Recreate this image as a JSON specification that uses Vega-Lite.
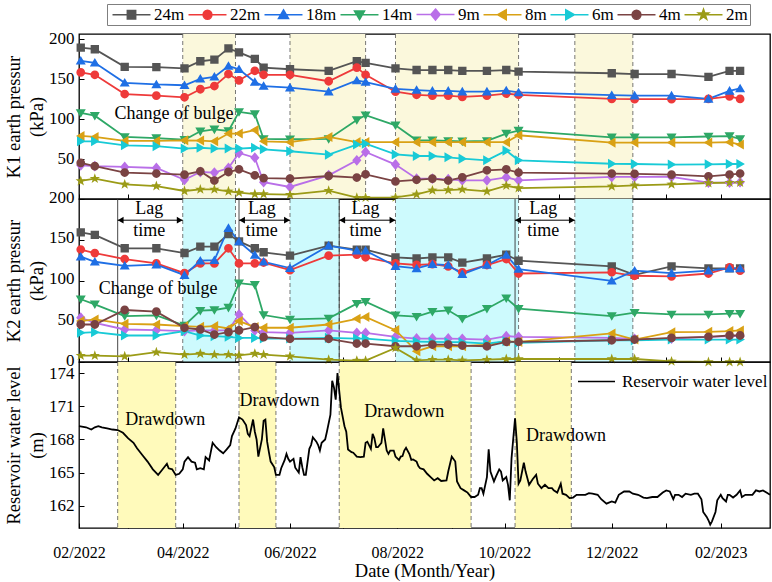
{
"$schema": "https://vega.github.io/schema/vega-lite/v6.json",
"background": "white",
"padding": {"left": 3, "top": 2, "right": 2, "bottom": 2},
"spacing": 0,
"bounds": "flush",
"config": {
  "font": "Liberation Serif",
  "view": {"stroke": "black", "strokeWidth": 1.3},
  "axis": {"grid": false, "labelColor": "black", "titleColor": "black", "tickColor": "black", "domainColor": "black", "labelFont": "Liberation Serif", "titleFont": "Liberation Serif", "labelFontSize": 17, "titleFontSize": 18.5, "titleFontWeight": "normal", "tickWidth": 1},
  "legend": {"labelFont": "Liberation Serif", "labelColor": "black"},
  "text": {"font": "Liberation Serif", "fontSize": 18, "color": "black"}
},
"datasets": {
  "k1bands": [{"start":"2022-04-01","end":"2022-05-01"},{"start":"2022-06-01","end":"2022-07-14"},{"start":"2022-07-31","end":"2022-10-09"},{"start":"2022-11-10","end":"2022-12-13"}],
  "k2bands": [{"start":"2022-04-01","end":"2022-05-01"},{"start":"2022-06-01","end":"2022-06-29"},{"start":"2022-07-31","end":"2022-10-09"},{"start":"2022-11-10","end":"2022-12-13"}],
  "lags": [{"start":"2022-02-23","end":"2022-04-01","mid":"2022-03-13"},{"start":"2022-05-03","end":"2022-06-01","mid":"2022-05-16"},{"start":"2022-06-29","end":"2022-07-31","mid":"2022-07-14"},{"start":"2022-10-07","end":"2022-11-10","mid":"2022-10-23"}],
  "drawdown": [{"start":"2022-02-23","end":"2022-03-28"},{"start":"2022-05-03","end":"2022-05-24"},{"start":"2022-06-29","end":"2022-09-12"},{"start":"2022-10-07","end":"2022-11-08"}],
  "k1": [
{"date":"2022-02-02","depth":"24m","kPa":189},{"date":"2022-02-10","depth":"24m","kPa":187},{"date":"2022-02-27","depth":"24m","kPa":165},{"date":"2022-03-17","depth":"24m","kPa":164.6},{"date":"2022-04-02","depth":"24m","kPa":163},{"date":"2022-04-11","depth":"24m","kPa":172},{"date":"2022-04-19","depth":"24m","kPa":174},{"date":"2022-04-27","depth":"24m","kPa":188},{"date":"2022-05-03","depth":"24m","kPa":183},{"date":"2022-05-12","depth":"24m","kPa":175},{"date":"2022-05-17","depth":"24m","kPa":164},{"date":"2022-06-01","depth":"24m","kPa":162},{"date":"2022-06-23","depth":"24m","kPa":160},{"date":"2022-07-09","depth":"24m","kPa":172},{"date":"2022-07-14","depth":"24m","kPa":170},{"date":"2022-07-31","depth":"24m","kPa":163},{"date":"2022-08-12","depth":"24m","kPa":161},{"date":"2022-08-21","depth":"24m","kPa":161},{"date":"2022-08-30","depth":"24m","kPa":161},{"date":"2022-09-07","depth":"24m","kPa":160},{"date":"2022-09-21","depth":"24m","kPa":160},{"date":"2022-10-02","depth":"24m","kPa":161},{"date":"2022-10-09","depth":"24m","kPa":159},{"date":"2022-12-01","depth":"24m","kPa":157},{"date":"2022-12-14","depth":"24m","kPa":156},{"date":"2023-01-04","depth":"24m","kPa":156},{"date":"2023-01-25","depth":"24m","kPa":152.5},{"date":"2023-02-06","depth":"24m","kPa":160},{"date":"2023-02-12","depth":"24m","kPa":160},
{"date":"2022-02-02","depth":"22m","kPa":158},{"date":"2022-02-10","depth":"22m","kPa":155},{"date":"2022-02-27","depth":"22m","kPa":131},{"date":"2022-03-17","depth":"22m","kPa":129},{"date":"2022-04-02","depth":"22m","kPa":127},{"date":"2022-04-11","depth":"22m","kPa":137},{"date":"2022-04-19","depth":"22m","kPa":141},{"date":"2022-04-27","depth":"22m","kPa":156},{"date":"2022-05-03","depth":"22m","kPa":148},{"date":"2022-05-12","depth":"22m","kPa":160},{"date":"2022-05-17","depth":"22m","kPa":155},{"date":"2022-06-01","depth":"22m","kPa":155},{"date":"2022-06-23","depth":"22m","kPa":147},{"date":"2022-07-09","depth":"22m","kPa":164},{"date":"2022-07-14","depth":"22m","kPa":155},{"date":"2022-07-31","depth":"22m","kPa":134},{"date":"2022-08-12","depth":"22m","kPa":130},{"date":"2022-08-21","depth":"22m","kPa":129},{"date":"2022-08-30","depth":"22m","kPa":129},{"date":"2022-09-07","depth":"22m","kPa":127.5},{"date":"2022-09-21","depth":"22m","kPa":129},{"date":"2022-10-02","depth":"22m","kPa":131.6},{"date":"2022-10-09","depth":"22m","kPa":130},{"date":"2022-12-01","depth":"22m","kPa":125},{"date":"2022-12-14","depth":"22m","kPa":124.6},{"date":"2023-01-04","depth":"22m","kPa":124.6},{"date":"2023-01-25","depth":"22m","kPa":125},{"date":"2023-02-06","depth":"22m","kPa":128},{"date":"2023-02-12","depth":"22m","kPa":125},
{"date":"2022-02-02","depth":"18m","kPa":172.5},{"date":"2022-02-10","depth":"18m","kPa":170},{"date":"2022-02-27","depth":"18m","kPa":145},{"date":"2022-03-17","depth":"18m","kPa":143},{"date":"2022-04-02","depth":"18m","kPa":142},{"date":"2022-04-11","depth":"18m","kPa":150},{"date":"2022-04-19","depth":"18m","kPa":152.5},{"date":"2022-04-27","depth":"18m","kPa":166},{"date":"2022-05-03","depth":"18m","kPa":162},{"date":"2022-05-12","depth":"18m","kPa":146},{"date":"2022-05-17","depth":"18m","kPa":141},{"date":"2022-06-01","depth":"18m","kPa":139},{"date":"2022-06-23","depth":"18m","kPa":134},{"date":"2022-07-09","depth":"18m","kPa":148},{"date":"2022-07-14","depth":"18m","kPa":146},{"date":"2022-07-31","depth":"18m","kPa":137.5},{"date":"2022-08-12","depth":"18m","kPa":136},{"date":"2022-08-21","depth":"18m","kPa":135},{"date":"2022-08-30","depth":"18m","kPa":135},{"date":"2022-09-07","depth":"18m","kPa":134},{"date":"2022-09-21","depth":"18m","kPa":134},{"date":"2022-10-02","depth":"18m","kPa":135.4},{"date":"2022-10-09","depth":"18m","kPa":133},{"date":"2022-12-01","depth":"18m","kPa":129.6},{"date":"2022-12-14","depth":"18m","kPa":129},{"date":"2023-01-04","depth":"18m","kPa":129},{"date":"2023-01-25","depth":"18m","kPa":125},{"date":"2023-02-06","depth":"18m","kPa":135},{"date":"2023-02-12","depth":"18m","kPa":138},
{"date":"2022-02-02","depth":"14m","kPa":107.5},{"date":"2022-02-10","depth":"14m","kPa":104},{"date":"2022-02-27","depth":"14m","kPa":77.5},{"date":"2022-03-17","depth":"14m","kPa":76},{"date":"2022-04-02","depth":"14m","kPa":74},{"date":"2022-04-11","depth":"14m","kPa":84.5},{"date":"2022-04-19","depth":"14m","kPa":87},{"date":"2022-04-27","depth":"14m","kPa":85},{"date":"2022-05-03","depth":"14m","kPa":108.7},{"date":"2022-05-12","depth":"14m","kPa":106},{"date":"2022-05-17","depth":"14m","kPa":75},{"date":"2022-06-01","depth":"14m","kPa":74.6},{"date":"2022-06-23","depth":"14m","kPa":75},{"date":"2022-07-09","depth":"14m","kPa":98.7},{"date":"2022-07-14","depth":"14m","kPa":104.6},{"date":"2022-07-31","depth":"14m","kPa":92},{"date":"2022-08-12","depth":"14m","kPa":73.3},{"date":"2022-08-21","depth":"14m","kPa":73.3},{"date":"2022-08-30","depth":"14m","kPa":72.5},{"date":"2022-09-07","depth":"14m","kPa":72},{"date":"2022-09-21","depth":"14m","kPa":72.5},{"date":"2022-10-02","depth":"14m","kPa":81.7},{"date":"2022-10-09","depth":"14m","kPa":85.4},{"date":"2022-12-01","depth":"14m","kPa":77},{"date":"2022-12-14","depth":"14m","kPa":77},{"date":"2023-01-04","depth":"14m","kPa":77},{"date":"2023-01-25","depth":"14m","kPa":78},{"date":"2023-02-06","depth":"14m","kPa":78.5},{"date":"2023-02-12","depth":"14m","kPa":75},
{"date":"2022-02-02","depth":"9m","kPa":42},{"date":"2022-02-10","depth":"9m","kPa":41},{"date":"2022-02-27","depth":"9m","kPa":40},{"date":"2022-03-17","depth":"9m","kPa":38.7},{"date":"2022-04-02","depth":"9m","kPa":24},{"date":"2022-04-11","depth":"9m","kPa":33.7},{"date":"2022-04-19","depth":"9m","kPa":33},{"date":"2022-04-27","depth":"9m","kPa":38.7},{"date":"2022-05-03","depth":"9m","kPa":57.5},{"date":"2022-05-12","depth":"9m","kPa":51.6},{"date":"2022-05-17","depth":"9m","kPa":21},{"date":"2022-06-01","depth":"9m","kPa":15},{"date":"2022-06-23","depth":"9m","kPa":29.6},{"date":"2022-07-09","depth":"9m","kPa":48.3},{"date":"2022-07-14","depth":"9m","kPa":58.7},{"date":"2022-07-31","depth":"9m","kPa":43},{"date":"2022-08-12","depth":"9m","kPa":25.4},{"date":"2022-08-21","depth":"9m","kPa":25.4},{"date":"2022-08-30","depth":"9m","kPa":24.6},{"date":"2022-09-07","depth":"9m","kPa":23.3},{"date":"2022-09-21","depth":"9m","kPa":23.3},{"date":"2022-10-02","depth":"9m","kPa":27},{"date":"2022-10-09","depth":"9m","kPa":23.3},{"date":"2022-12-01","depth":"9m","kPa":27.5},{"date":"2022-12-14","depth":"9m","kPa":27.5},{"date":"2023-01-04","depth":"9m","kPa":27.5},{"date":"2023-01-25","depth":"9m","kPa":20.4},{"date":"2023-02-06","depth":"9m","kPa":20.4},{"date":"2023-02-12","depth":"9m","kPa":21},
{"date":"2022-02-02","depth":"8m","kPa":78.7},{"date":"2022-02-10","depth":"8m","kPa":77.5},{"date":"2022-02-27","depth":"8m","kPa":72.5},{"date":"2022-03-17","depth":"8m","kPa":72.5},{"date":"2022-04-02","depth":"8m","kPa":73.3},{"date":"2022-04-11","depth":"8m","kPa":73},{"date":"2022-04-19","depth":"8m","kPa":72},{"date":"2022-04-27","depth":"8m","kPa":81.7},{"date":"2022-05-03","depth":"8m","kPa":81.7},{"date":"2022-05-12","depth":"8m","kPa":86},{"date":"2022-05-17","depth":"8m","kPa":72},{"date":"2022-06-01","depth":"8m","kPa":71},{"date":"2022-06-23","depth":"8m","kPa":77.5},{"date":"2022-07-09","depth":"8m","kPa":71},{"date":"2022-07-14","depth":"8m","kPa":71},{"date":"2022-07-31","depth":"8m","kPa":71},{"date":"2022-08-12","depth":"8m","kPa":71},{"date":"2022-08-21","depth":"8m","kPa":71},{"date":"2022-08-30","depth":"8m","kPa":71},{"date":"2022-09-07","depth":"8m","kPa":71},{"date":"2022-09-21","depth":"8m","kPa":71},{"date":"2022-10-02","depth":"8m","kPa":71},{"date":"2022-10-09","depth":"8m","kPa":79.6},{"date":"2022-12-01","depth":"8m","kPa":70.4},{"date":"2022-12-14","depth":"8m","kPa":70.4},{"date":"2023-01-04","depth":"8m","kPa":70.4},{"date":"2023-01-25","depth":"8m","kPa":70.4},{"date":"2023-02-06","depth":"8m","kPa":71},{"date":"2023-02-12","depth":"8m","kPa":68},
{"date":"2022-02-02","depth":"6m","kPa":72},{"date":"2022-02-10","depth":"6m","kPa":72},{"date":"2022-02-27","depth":"6m","kPa":67},{"date":"2022-03-17","depth":"6m","kPa":66},{"date":"2022-04-02","depth":"6m","kPa":63},{"date":"2022-04-11","depth":"6m","kPa":64},{"date":"2022-04-19","depth":"6m","kPa":63},{"date":"2022-04-27","depth":"6m","kPa":63},{"date":"2022-05-03","depth":"6m","kPa":63},{"date":"2022-05-12","depth":"6m","kPa":64},{"date":"2022-05-17","depth":"6m","kPa":62},{"date":"2022-06-01","depth":"6m","kPa":59.6},{"date":"2022-06-23","depth":"6m","kPa":55.4},{"date":"2022-07-09","depth":"6m","kPa":68},{"date":"2022-07-14","depth":"6m","kPa":69},{"date":"2022-07-31","depth":"6m","kPa":55.7},{"date":"2022-08-12","depth":"6m","kPa":53.7},{"date":"2022-08-21","depth":"6m","kPa":53.7},{"date":"2022-08-30","depth":"6m","kPa":52},{"date":"2022-09-07","depth":"6m","kPa":50.4},{"date":"2022-09-21","depth":"6m","kPa":48.3},{"date":"2022-10-02","depth":"6m","kPa":60.4},{"date":"2022-10-09","depth":"6m","kPa":48.3},{"date":"2022-12-01","depth":"6m","kPa":44},{"date":"2022-12-14","depth":"6m","kPa":43.7},{"date":"2023-01-04","depth":"6m","kPa":43},{"date":"2023-01-25","depth":"6m","kPa":43.3},{"date":"2023-02-06","depth":"6m","kPa":43.7},{"date":"2023-02-12","depth":"6m","kPa":43.7},
{"date":"2022-02-02","depth":"4m","kPa":45},{"date":"2022-02-10","depth":"4m","kPa":41},{"date":"2022-02-27","depth":"4m","kPa":33},{"date":"2022-03-17","depth":"4m","kPa":31.7},{"date":"2022-04-02","depth":"4m","kPa":30.4},{"date":"2022-04-11","depth":"4m","kPa":34.6},{"date":"2022-04-19","depth":"4m","kPa":23},{"date":"2022-04-27","depth":"4m","kPa":33.7},{"date":"2022-05-03","depth":"4m","kPa":37},{"date":"2022-05-12","depth":"4m","kPa":29.6},{"date":"2022-05-17","depth":"4m","kPa":26},{"date":"2022-06-01","depth":"4m","kPa":25.4},{"date":"2022-06-23","depth":"4m","kPa":28.7},{"date":"2022-07-09","depth":"4m","kPa":26.7},{"date":"2022-07-14","depth":"4m","kPa":30.8},{"date":"2022-07-31","depth":"4m","kPa":22},{"date":"2022-08-12","depth":"4m","kPa":24},{"date":"2022-08-21","depth":"4m","kPa":25.4},{"date":"2022-08-30","depth":"4m","kPa":23},{"date":"2022-09-07","depth":"4m","kPa":27},{"date":"2022-09-21","depth":"4m","kPa":35.8},{"date":"2022-10-02","depth":"4m","kPa":37},{"date":"2022-10-09","depth":"4m","kPa":33},{"date":"2022-12-01","depth":"4m","kPa":31.7},{"date":"2022-12-14","depth":"4m","kPa":31.4},{"date":"2023-01-04","depth":"4m","kPa":30.4},{"date":"2023-01-25","depth":"4m","kPa":28.3},{"date":"2023-02-06","depth":"4m","kPa":30.4},{"date":"2023-02-12","depth":"4m","kPa":31.7},
{"date":"2022-02-02","depth":"2m","kPa":22.5},{"date":"2022-02-10","depth":"2m","kPa":25.4},{"date":"2022-02-27","depth":"2m","kPa":18.3},{"date":"2022-03-17","depth":"2m","kPa":16.2},{"date":"2022-04-02","depth":"2m","kPa":10},{"date":"2022-04-11","depth":"2m","kPa":12},{"date":"2022-04-19","depth":"2m","kPa":12},{"date":"2022-04-27","depth":"2m","kPa":9.6},{"date":"2022-05-03","depth":"2m","kPa":8},{"date":"2022-05-12","depth":"2m","kPa":6.2},{"date":"2022-05-17","depth":"2m","kPa":6.2},{"date":"2022-06-01","depth":"2m","kPa":5.4},{"date":"2022-06-23","depth":"2m","kPa":10.4},{"date":"2022-07-09","depth":"2m","kPa":1.7},{"date":"2022-07-14","depth":"2m","kPa":1.7},{"date":"2022-07-31","depth":"2m","kPa":2},{"date":"2022-08-12","depth":"2m","kPa":5.8},{"date":"2022-08-21","depth":"2m","kPa":10.8},{"date":"2022-08-30","depth":"2m","kPa":11.2},{"date":"2022-09-07","depth":"2m","kPa":12},{"date":"2022-09-21","depth":"2m","kPa":9.6},{"date":"2022-10-02","depth":"2m","kPa":16.7},{"date":"2022-10-09","depth":"2m","kPa":13.7},{"date":"2022-12-01","depth":"2m","kPa":15.8},{"date":"2022-12-14","depth":"2m","kPa":17},{"date":"2023-01-04","depth":"2m","kPa":18.3},{"date":"2023-01-25","depth":"2m","kPa":20},{"date":"2023-02-06","depth":"2m","kPa":20.4},{"date":"2023-02-12","depth":"2m","kPa":20.4}
  ],
  "k2": [
{"date":"2022-02-02","depth":"24m","kPa":159},{"date":"2022-02-10","depth":"24m","kPa":156},{"date":"2022-02-27","depth":"24m","kPa":139.5},{"date":"2022-03-17","depth":"24m","kPa":139.5},{"date":"2022-04-02","depth":"24m","kPa":133.7},{"date":"2022-04-11","depth":"24m","kPa":141.6},{"date":"2022-04-19","depth":"24m","kPa":141.6},{"date":"2022-04-27","depth":"24m","kPa":157},{"date":"2022-05-03","depth":"24m","kPa":148},{"date":"2022-05-12","depth":"24m","kPa":139.5},{"date":"2022-05-17","depth":"24m","kPa":134.6},{"date":"2022-06-01","depth":"24m","kPa":130.5},{"date":"2022-06-23","depth":"24m","kPa":142.8},{"date":"2022-07-09","depth":"24m","kPa":137.9},{"date":"2022-07-14","depth":"24m","kPa":137.9},{"date":"2022-07-31","depth":"24m","kPa":128.4},{"date":"2022-08-12","depth":"24m","kPa":127},{"date":"2022-08-21","depth":"24m","kPa":128.4},{"date":"2022-08-30","depth":"24m","kPa":128.4},{"date":"2022-09-07","depth":"24m","kPa":122},{"date":"2022-09-21","depth":"24m","kPa":127},{"date":"2022-10-02","depth":"24m","kPa":131.7},{"date":"2022-10-09","depth":"24m","kPa":124.3},{"date":"2022-12-01","depth":"24m","kPa":117.3},{"date":"2022-12-14","depth":"24m","kPa":107},{"date":"2023-01-04","depth":"24m","kPa":117.3},{"date":"2023-01-25","depth":"24m","kPa":114.8},{"date":"2023-02-06","depth":"24m","kPa":114.8},{"date":"2023-02-12","depth":"24m","kPa":114.8},
{"date":"2022-02-02","depth":"22m","kPa":137.9},{"date":"2022-02-10","depth":"22m","kPa":133.7},{"date":"2022-02-27","depth":"22m","kPa":126.3},{"date":"2022-03-17","depth":"22m","kPa":121},{"date":"2022-04-02","depth":"22m","kPa":109},{"date":"2022-04-11","depth":"22m","kPa":121},{"date":"2022-04-19","depth":"22m","kPa":121},{"date":"2022-04-27","depth":"22m","kPa":139.5},{"date":"2022-05-03","depth":"22m","kPa":121},{"date":"2022-05-12","depth":"22m","kPa":121},{"date":"2022-05-17","depth":"22m","kPa":122},{"date":"2022-06-01","depth":"22m","kPa":112.7},{"date":"2022-06-23","depth":"22m","kPa":130.5},{"date":"2022-07-09","depth":"22m","kPa":131.7},{"date":"2022-07-14","depth":"22m","kPa":128.4},{"date":"2022-07-31","depth":"22m","kPa":121},{"date":"2022-08-12","depth":"22m","kPa":119},{"date":"2022-08-21","depth":"22m","kPa":120},{"date":"2022-08-30","depth":"22m","kPa":117.3},{"date":"2022-09-07","depth":"22m","kPa":110},{"date":"2022-09-21","depth":"22m","kPa":119},{"date":"2022-10-02","depth":"22m","kPa":126.3},{"date":"2022-10-09","depth":"22m","kPa":108.6},{"date":"2022-12-01","depth":"22m","kPa":110},{"date":"2022-12-14","depth":"22m","kPa":105.8},{"date":"2023-01-04","depth":"22m","kPa":105},{"date":"2023-01-25","depth":"22m","kPa":108.6},{"date":"2023-02-06","depth":"22m","kPa":116},{"date":"2023-02-12","depth":"22m","kPa":112},
{"date":"2022-02-02","depth":"18m","kPa":129.2},{"date":"2022-02-10","depth":"18m","kPa":123},{"date":"2022-02-27","depth":"18m","kPa":118},{"date":"2022-03-17","depth":"18m","kPa":119.4},{"date":"2022-04-02","depth":"18m","kPa":106.6},{"date":"2022-04-11","depth":"18m","kPa":124.3},{"date":"2022-04-19","depth":"18m","kPa":124.9},{"date":"2022-04-27","depth":"18m","kPa":164.2},{"date":"2022-05-03","depth":"18m","kPa":147.8},{"date":"2022-05-12","depth":"18m","kPa":131.2},{"date":"2022-05-17","depth":"18m","kPa":123},{"date":"2022-06-01","depth":"18m","kPa":115.2},{"date":"2022-06-23","depth":"18m","kPa":142.8},{"date":"2022-07-09","depth":"18m","kPa":136.6},{"date":"2022-07-14","depth":"18m","kPa":136.6},{"date":"2022-07-31","depth":"18m","kPa":117.5},{"date":"2022-08-12","depth":"18m","kPa":114.8},{"date":"2022-08-21","depth":"18m","kPa":120},{"date":"2022-08-30","depth":"18m","kPa":119},{"date":"2022-09-07","depth":"18m","kPa":107.8},{"date":"2022-09-21","depth":"18m","kPa":119},{"date":"2022-10-02","depth":"18m","kPa":131.2},{"date":"2022-10-09","depth":"18m","kPa":114},{"date":"2022-12-01","depth":"18m","kPa":99.6},{"date":"2022-12-14","depth":"18m","kPa":112},{"date":"2023-01-04","depth":"18m","kPa":109},{"date":"2023-01-25","depth":"18m","kPa":112},{"date":"2023-02-06","depth":"18m","kPa":114.8},{"date":"2023-02-12","depth":"18m","kPa":114.8},
{"date":"2022-02-02","depth":"14m","kPa":77},{"date":"2022-02-10","depth":"14m","kPa":70.8},{"date":"2022-02-27","depth":"14m","kPa":56.4},{"date":"2022-03-17","depth":"14m","kPa":57.2},{"date":"2022-04-02","depth":"14m","kPa":44.8},{"date":"2022-04-11","depth":"14m","kPa":63},{"date":"2022-04-19","depth":"14m","kPa":63.8},{"date":"2022-04-27","depth":"14m","kPa":66.7},{"date":"2022-05-03","depth":"14m","kPa":96.7},{"date":"2022-05-12","depth":"14m","kPa":94.7},{"date":"2022-05-17","depth":"14m","kPa":57.6},{"date":"2022-06-01","depth":"14m","kPa":52.2},{"date":"2022-06-23","depth":"14m","kPa":53.5},{"date":"2022-07-09","depth":"14m","kPa":71.6},{"date":"2022-07-14","depth":"14m","kPa":74},{"date":"2022-07-31","depth":"14m","kPa":57.2},{"date":"2022-08-12","depth":"14m","kPa":55.6},{"date":"2022-08-21","depth":"14m","kPa":61.7},{"date":"2022-08-30","depth":"14m","kPa":63.4},{"date":"2022-09-07","depth":"14m","kPa":53},{"date":"2022-09-21","depth":"14m","kPa":65.4},{"date":"2022-10-02","depth":"14m","kPa":78.2},{"date":"2022-10-09","depth":"14m","kPa":65.4},{"date":"2022-12-01","depth":"14m","kPa":56.4},{"date":"2022-12-14","depth":"14m","kPa":60.5},{"date":"2023-01-04","depth":"14m","kPa":58.4},{"date":"2023-01-25","depth":"14m","kPa":58.4},{"date":"2023-02-06","depth":"14m","kPa":59.3},{"date":"2023-02-12","depth":"14m","kPa":59.3},
{"date":"2022-02-02","depth":"9m","kPa":54.3},{"date":"2022-02-10","depth":"9m","kPa":48.1},{"date":"2022-02-27","depth":"9m","kPa":39.9},{"date":"2022-03-17","depth":"9m","kPa":39.1},{"date":"2022-04-02","depth":"9m","kPa":37.9},{"date":"2022-04-11","depth":"9m","kPa":38.7},{"date":"2022-04-19","depth":"9m","kPa":38.7},{"date":"2022-04-27","depth":"9m","kPa":38.7},{"date":"2022-05-03","depth":"9m","kPa":58.4},{"date":"2022-05-12","depth":"9m","kPa":38.7},{"date":"2022-05-17","depth":"9m","kPa":36.6},{"date":"2022-06-01","depth":"9m","kPa":35.8},{"date":"2022-06-23","depth":"9m","kPa":38.7},{"date":"2022-07-09","depth":"9m","kPa":35.8},{"date":"2022-07-14","depth":"9m","kPa":35.8},{"date":"2022-07-31","depth":"9m","kPa":30.9},{"date":"2022-08-12","depth":"9m","kPa":28.8},{"date":"2022-08-21","depth":"9m","kPa":28.8},{"date":"2022-08-30","depth":"9m","kPa":28.8},{"date":"2022-09-07","depth":"9m","kPa":28.4},{"date":"2022-09-21","depth":"9m","kPa":27.5},{"date":"2022-10-02","depth":"9m","kPa":31.7},{"date":"2022-10-09","depth":"9m","kPa":30.9},{"date":"2022-12-01","depth":"9m","kPa":29.6},{"date":"2022-12-14","depth":"9m","kPa":28.4},{"date":"2023-01-04","depth":"9m","kPa":28.8},{"date":"2023-01-25","depth":"9m","kPa":30.9},{"date":"2023-02-06","depth":"9m","kPa":31.7},{"date":"2023-02-12","depth":"9m","kPa":31.7},
{"date":"2022-02-02","depth":"8m","kPa":50.2},{"date":"2022-02-10","depth":"8m","kPa":52.2},{"date":"2022-02-27","depth":"8m","kPa":46.9},{"date":"2022-03-17","depth":"8m","kPa":46},{"date":"2022-04-02","depth":"8m","kPa":44},{"date":"2022-04-11","depth":"8m","kPa":43.2},{"date":"2022-04-19","depth":"8m","kPa":44},{"date":"2022-04-27","depth":"8m","kPa":41.1},{"date":"2022-05-03","depth":"8m","kPa":50.2},{"date":"2022-05-12","depth":"8m","kPa":42.8},{"date":"2022-05-17","depth":"8m","kPa":42},{"date":"2022-06-01","depth":"8m","kPa":42},{"date":"2022-06-23","depth":"8m","kPa":46},{"date":"2022-07-09","depth":"8m","kPa":53},{"date":"2022-07-14","depth":"8m","kPa":55.2},{"date":"2022-07-31","depth":"8m","kPa":39.1},{"date":"2022-08-12","depth":"8m","kPa":13.2},{"date":"2022-08-21","depth":"8m","kPa":19.3},{"date":"2022-08-30","depth":"8m","kPa":19.3},{"date":"2022-09-07","depth":"8m","kPa":19.3},{"date":"2022-09-21","depth":"8m","kPa":21.4},{"date":"2022-10-02","depth":"8m","kPa":25.5},{"date":"2022-10-09","depth":"8m","kPa":24.7},{"date":"2022-12-01","depth":"8m","kPa":35},{"date":"2022-12-14","depth":"8m","kPa":27.5},{"date":"2023-01-04","depth":"8m","kPa":36.6},{"date":"2023-01-25","depth":"8m","kPa":37},{"date":"2023-02-06","depth":"8m","kPa":37.9},{"date":"2023-02-12","depth":"8m","kPa":38.7},
{"date":"2022-02-02","depth":"6m","kPa":35.8},{"date":"2022-02-10","depth":"6m","kPa":36.6},{"date":"2022-02-27","depth":"6m","kPa":32.5},{"date":"2022-03-17","depth":"6m","kPa":32.5},{"date":"2022-04-02","depth":"6m","kPa":37.9},{"date":"2022-04-11","depth":"6m","kPa":32.5},{"date":"2022-04-19","depth":"6m","kPa":31.7},{"date":"2022-04-27","depth":"6m","kPa":30.9},{"date":"2022-05-03","depth":"6m","kPa":29.6},{"date":"2022-05-12","depth":"6m","kPa":29.6},{"date":"2022-05-17","depth":"6m","kPa":28.8},{"date":"2022-06-01","depth":"6m","kPa":28.8},{"date":"2022-06-23","depth":"6m","kPa":29.6},{"date":"2022-07-09","depth":"6m","kPa":28.8},{"date":"2022-07-14","depth":"6m","kPa":28.8},{"date":"2022-07-31","depth":"6m","kPa":26},{"date":"2022-08-12","depth":"6m","kPa":25.1},{"date":"2022-08-21","depth":"6m","kPa":24.7},{"date":"2022-08-30","depth":"6m","kPa":24.3},{"date":"2022-09-07","depth":"6m","kPa":24.3},{"date":"2022-09-21","depth":"6m","kPa":22.6},{"date":"2022-10-02","depth":"6m","kPa":25.5},{"date":"2022-10-09","depth":"6m","kPa":23.5},{"date":"2022-12-01","depth":"6m","kPa":26.7},{"date":"2022-12-14","depth":"6m","kPa":26.7},{"date":"2023-01-04","depth":"6m","kPa":27.5},{"date":"2023-01-25","depth":"6m","kPa":27.5},{"date":"2023-02-06","depth":"6m","kPa":27.5},{"date":"2023-02-12","depth":"6m","kPa":27.5},
{"date":"2022-02-02","depth":"4m","kPa":46},{"date":"2022-02-10","depth":"4m","kPa":46},{"date":"2022-02-27","depth":"4m","kPa":63.8},{"date":"2022-03-17","depth":"4m","kPa":61.7},{"date":"2022-04-02","depth":"4m","kPa":42},{"date":"2022-04-11","depth":"4m","kPa":39.9},{"date":"2022-04-19","depth":"4m","kPa":33.7},{"date":"2022-04-27","depth":"4m","kPa":36.6},{"date":"2022-05-03","depth":"4m","kPa":38.7},{"date":"2022-05-12","depth":"4m","kPa":42.8},{"date":"2022-05-17","depth":"4m","kPa":30.5},{"date":"2022-06-01","depth":"4m","kPa":28.4},{"date":"2022-06-23","depth":"4m","kPa":28.4},{"date":"2022-07-09","depth":"4m","kPa":22.6},{"date":"2022-07-14","depth":"4m","kPa":22.6},{"date":"2022-07-31","depth":"4m","kPa":19.3},{"date":"2022-08-12","depth":"4m","kPa":19.3},{"date":"2022-08-21","depth":"4m","kPa":21.4},{"date":"2022-08-30","depth":"4m","kPa":21.4},{"date":"2022-09-07","depth":"4m","kPa":20.1},{"date":"2022-09-21","depth":"4m","kPa":19.3},{"date":"2022-10-02","depth":"4m","kPa":24.7},{"date":"2022-10-09","depth":"4m","kPa":24.7},{"date":"2022-12-01","depth":"4m","kPa":26.7},{"date":"2022-12-14","depth":"4m","kPa":27.5},{"date":"2023-01-04","depth":"4m","kPa":29.6},{"date":"2023-01-25","depth":"4m","kPa":30.9},{"date":"2023-02-06","depth":"4m","kPa":32.5},{"date":"2023-02-12","depth":"4m","kPa":32.5},
{"date":"2022-02-02","depth":"2m","kPa":7.8},{"date":"2022-02-10","depth":"2m","kPa":7.8},{"date":"2022-02-27","depth":"2m","kPa":7},{"date":"2022-03-17","depth":"2m","kPa":12},{"date":"2022-04-02","depth":"2m","kPa":9},{"date":"2022-04-11","depth":"2m","kPa":10.3},{"date":"2022-04-19","depth":"2m","kPa":9},{"date":"2022-04-27","depth":"2m","kPa":9},{"date":"2022-05-03","depth":"2m","kPa":8.2},{"date":"2022-05-12","depth":"2m","kPa":10.3},{"date":"2022-05-17","depth":"2m","kPa":9},{"date":"2022-06-01","depth":"2m","kPa":7},{"date":"2022-06-23","depth":"2m","kPa":2.9},{"date":"2022-07-09","depth":"2m","kPa":1.7},{"date":"2022-07-14","depth":"2m","kPa":1.7},{"date":"2022-07-31","depth":"2m","kPa":17.3},{"date":"2022-08-12","depth":"2m","kPa":2},{"date":"2022-08-21","depth":"2m","kPa":2.9},{"date":"2022-08-30","depth":"2m","kPa":2.9},{"date":"2022-09-07","depth":"2m","kPa":2},{"date":"2022-09-21","depth":"2m","kPa":2.9},{"date":"2022-10-02","depth":"2m","kPa":3.7},{"date":"2022-10-09","depth":"2m","kPa":3.7},{"date":"2022-12-01","depth":"2m","kPa":3.7},{"date":"2022-12-14","depth":"2m","kPa":3.7},{"date":"2023-01-04","depth":"2m","kPa":0.8},{"date":"2023-01-25","depth":"2m","kPa":0},{"date":"2023-02-06","depth":"2m","kPa":0},{"date":"2023-02-12","depth":"2m","kPa":0}
  ],
  "water": [
{"date":"2022-02-01","level":169.2},{"date":"2022-02-05","level":169.1},{"date":"2022-02-08","level":168.9},{"date":"2022-02-10","level":169.1},{"date":"2022-02-12","level":169.2},{"date":"2022-02-14","level":169.1},{"date":"2022-02-17","level":169.0},{"date":"2022-02-20","level":168.9},{"date":"2022-02-23","level":168.85},{"date":"2022-02-26","level":168.6},{"date":"2022-03-01","level":168.1},{"date":"2022-03-04","level":167.7},{"date":"2022-03-06","level":167.2},{"date":"2022-03-09","level":166.6},{"date":"2022-03-12","level":166.0},{"date":"2022-03-15","level":165.3},{"date":"2022-03-18","level":164.8},{"date":"2022-03-20","level":165.2},{"date":"2022-03-22","level":165.6},{"date":"2022-03-23","level":165.8},{"date":"2022-03-24","level":165.4},{"date":"2022-03-26","level":165.3},{"date":"2022-03-28","level":164.8},{"date":"2022-03-30","level":164.9},{"date":"2022-04-01","level":165.3},{"date":"2022-04-02","level":166.0},{"date":"2022-04-04","level":166.4},{"date":"2022-04-06","level":166.0},{"date":"2022-04-08","level":165.9},{"date":"2022-04-09","level":165.3},{"date":"2022-04-11","level":165.4},{"date":"2022-04-13","level":165.3},{"date":"2022-04-14","level":166.4},{"date":"2022-04-16","level":166.1},{"date":"2022-04-17","level":166.9},{"date":"2022-04-18","level":167.7},{"date":"2022-04-20","level":167.3},{"date":"2022-04-22","level":167.0},{"date":"2022-04-24","level":166.75},{"date":"2022-04-26","level":167.1},{"date":"2022-04-28","level":167.5},{"date":"2022-04-29","level":168.3},{"date":"2022-05-01","level":169.0},{"date":"2022-05-03","level":170.0},{"date":"2022-05-05","level":169.8},{"date":"2022-05-07","level":169.3},{"date":"2022-05-08","level":168.5},{"date":"2022-05-09","level":168.3},{"date":"2022-05-11","level":169.8},{"date":"2022-05-12","level":168.7},{"date":"2022-05-13","level":168.0},{"date":"2022-05-14","level":166.45},{"date":"2022-05-16","level":168.0},{"date":"2022-05-17","level":169.7},{"date":"2022-05-18","level":169.8},{"date":"2022-05-19","level":167.8},{"date":"2022-05-20","level":166.85},{"date":"2022-05-21","level":166.0},{"date":"2022-05-23","level":165.5},{"date":"2022-05-24","level":164.8},{"date":"2022-05-26","level":164.8},{"date":"2022-05-27","level":165.4},{"date":"2022-05-29","level":166.15},{"date":"2022-05-30","level":166.7},{"date":"2022-05-31","level":166.25},{"date":"2022-06-01","level":166.0},{"date":"2022-06-03","level":166.25},{"date":"2022-06-04","level":165.45},{"date":"2022-06-06","level":165.0},{"date":"2022-06-07","level":166.4},{"date":"2022-06-08","level":165.5},{"date":"2022-06-09","level":164.8},{"date":"2022-06-10","level":164.8},{"date":"2022-06-12","level":167.15},{"date":"2022-06-13","level":167.5},{"date":"2022-06-14","level":168.2},{"date":"2022-06-16","level":167.8},{"date":"2022-06-17","level":167.5},{"date":"2022-06-18","level":167.0},{"date":"2022-06-19","level":167.7},{"date":"2022-06-21","level":168.0},{"date":"2022-06-22","level":168.7},{"date":"2022-06-24","level":170.25},{"date":"2022-06-25","level":173.3},{"date":"2022-06-26","level":172.7},{"date":"2022-06-27","level":171.6},{"date":"2022-06-28","level":174.0},{"date":"2022-06-29","level":172.4},{"date":"2022-06-30","level":170.85},{"date":"2022-07-02","level":169.2},{"date":"2022-07-03","level":168.7},{"date":"2022-07-04","level":167.1},{"date":"2022-07-06","level":166.85},{"date":"2022-07-07","level":166.8},{"date":"2022-07-09","level":166.45},{"date":"2022-07-11","level":166.4},{"date":"2022-07-13","level":166.45},{"date":"2022-07-14","level":167.7},{"date":"2022-07-15","level":167.8},{"date":"2022-07-17","level":167.15},{"date":"2022-07-18","level":168.5},{"date":"2022-07-19","level":168.1},{"date":"2022-07-20","level":167.3},{"date":"2022-07-21","level":167.3},{"date":"2022-07-23","level":167.7},{"date":"2022-07-24","level":169.0},{"date":"2022-07-26","level":167.0},{"date":"2022-07-27","level":166.7},{"date":"2022-07-28","level":167.0},{"date":"2022-07-30","level":167.0},{"date":"2022-07-31","level":166.45},{"date":"2022-08-02","level":166.15},{"date":"2022-08-03","level":166.45},{"date":"2022-08-04","level":166.5},{"date":"2022-08-05","level":167.0},{"date":"2022-08-06","level":167.25},{"date":"2022-08-08","level":166.65},{"date":"2022-08-09","level":166.15},{"date":"2022-08-10","level":166.2},{"date":"2022-08-12","level":166.0},{"date":"2022-08-13","level":165.6},{"date":"2022-08-14","level":165.4},{"date":"2022-08-16","level":165.3},{"date":"2022-08-18","level":164.9},{"date":"2022-08-20","level":164.6},{"date":"2022-08-22","level":164.3},{"date":"2022-08-24","level":164.5},{"date":"2022-08-26","level":164.25},{"date":"2022-08-29","level":164.3},{"date":"2022-08-30","level":165.1},{"date":"2022-09-01","level":166.45},{"date":"2022-09-03","level":166.0},{"date":"2022-09-04","level":164.2},{"date":"2022-09-06","level":163.6},{"date":"2022-09-08","level":163.4},{"date":"2022-09-10","level":163.2},{"date":"2022-09-12","level":162.8},{"date":"2022-09-14","level":162.8},{"date":"2022-09-16","level":163.0},{"date":"2022-09-17","level":163.6},{"date":"2022-09-18","level":163.6},{"date":"2022-09-19","level":163.1},{"date":"2022-09-21","level":164.6},{"date":"2022-09-22","level":167.1},{"date":"2022-09-23","level":165.1},{"date":"2022-09-25","level":164.2},{"date":"2022-09-26","level":164.6},{"date":"2022-09-28","level":165.3},{"date":"2022-09-29","level":165.1},{"date":"2022-09-30","level":164.3},{"date":"2022-10-02","level":164.6},{"date":"2022-10-03","level":163.9},{"date":"2022-10-04","level":162.5},{"date":"2022-10-05","level":166.3},{"date":"2022-10-07","level":169.9},{"date":"2022-10-08","level":167.8},{"date":"2022-10-09","level":164.0},{"date":"2022-10-10","level":164.3},{"date":"2022-10-12","level":165.9},{"date":"2022-10-13","level":165.1},{"date":"2022-10-15","level":163.9},{"date":"2022-10-17","level":164.4},{"date":"2022-10-19","level":164.8},{"date":"2022-10-20","level":164.0},{"date":"2022-10-22","level":163.6},{"date":"2022-10-24","level":163.9},{"date":"2022-10-26","level":163.6},{"date":"2022-10-28","level":163.6},{"date":"2022-10-29","level":163.4},{"date":"2022-10-31","level":163.2},{"date":"2022-11-02","level":164.0},{"date":"2022-11-03","level":163.1},{"date":"2022-11-05","level":163.0},{"date":"2022-11-07","level":162.7},{"date":"2022-11-09","level":162.75},{"date":"2022-11-11","level":163.0},{"date":"2022-11-13","level":163.0},{"date":"2022-11-14","level":163.0},{"date":"2022-11-16","level":163.0},{"date":"2022-11-18","level":163.15},{"date":"2022-11-20","level":163.1},{"date":"2022-11-23","level":163.0},{"date":"2022-11-25","level":162.6},{"date":"2022-11-28","level":162.2},{"date":"2022-12-01","level":162.4},{"date":"2022-12-03","level":162.3},{"date":"2022-12-05","level":163.0},{"date":"2022-12-08","level":163.3},{"date":"2022-12-11","level":163.3},{"date":"2022-12-13","level":163.1},{"date":"2022-12-16","level":163.0},{"date":"2022-12-19","level":162.75},{"date":"2022-12-21","level":162.7},{"date":"2022-12-24","level":162.8},{"date":"2022-12-27","level":162.8},{"date":"2022-12-30","level":163.2},{"date":"2023-01-01","level":163.4},{"date":"2023-01-03","level":163.3},{"date":"2023-01-05","level":162.6},{"date":"2023-01-06","level":163.0},{"date":"2023-01-08","level":163.0},{"date":"2023-01-10","level":162.8},{"date":"2023-01-12","level":163.1},{"date":"2023-01-15","level":163.0},{"date":"2023-01-17","level":163.1},{"date":"2023-01-19","level":163.1},{"date":"2023-01-21","level":162.6},{"date":"2023-01-22","level":161.45},{"date":"2023-01-24","level":161.0},{"date":"2023-01-25","level":160.7},{"date":"2023-01-26","level":160.3},{"date":"2023-01-27","level":160.6},{"date":"2023-01-29","level":161.45},{"date":"2023-01-30","level":162.5},{"date":"2023-02-01","level":163.0},{"date":"2023-02-02","level":162.7},{"date":"2023-02-04","level":162.4},{"date":"2023-02-05","level":163.0},{"date":"2023-02-06","level":163.0},{"date":"2023-02-08","level":162.75},{"date":"2023-02-10","level":163.0},{"date":"2023-02-12","level":163.4},{"date":"2023-02-13","level":162.8},{"date":"2023-02-15","level":163.0},{"date":"2023-02-17","level":163.0},{"date":"2023-02-19","level":163.0},{"date":"2023-02-21","level":163.4},{"date":"2023-02-23","level":163.3},{"date":"2023-02-25","level":163.4},{"date":"2023-02-27","level":163.2},{"date":"2023-03-01","level":163.0}
  ]
},
"vconcat": [
{
  "width": 691, "height": 165,
  "layer": [
    {"data": {"name": "k1bands"}, "mark": {"type": "rect", "fill": "#FBF8DC"},
     "encoding": {"x": {"field": "start", "type": "temporal", "scale": {"type": "utc", "nice": false, "domain": [{"year":2022,"month":2,"date":1,"utc":true},{"year":2023,"month":3,"date":1,"utc":true}]},
       "axis": {"title": null, "labels": false, "domain": false, "tickSize": -5, "values": [{"year":2022,"month":2,"date":1,"utc":true},{"year":2022,"month":3,"date":1,"utc":true},{"year":2022,"month":4,"date":1,"utc":true},{"year":2022,"month":5,"date":1,"utc":true},{"year":2022,"month":6,"date":1,"utc":true},{"year":2022,"month":7,"date":1,"utc":true},{"year":2022,"month":8,"date":1,"utc":true},{"year":2022,"month":9,"date":1,"utc":true},{"year":2022,"month":10,"date":1,"utc":true},{"year":2022,"month":11,"date":1,"utc":true},{"year":2022,"month":12,"date":1,"utc":true},{"year":2023,"month":1,"date":1,"utc":true},{"year":2023,"month":2,"date":1,"utc":true}]}},
       "x2": {"field": "end"}}},
    {"data": {"name": "k1bands"}, "mark": {"type": "rule", "color": "#555555", "strokeWidth": 0.8, "strokeDash": [4, 3]}, "encoding": {"x": {"field": "start", "type": "temporal"}}},
    {"data": {"name": "k1bands"}, "mark": {"type": "rule", "color": "#555555", "strokeWidth": 0.8, "strokeDash": [4, 3]}, "encoding": {"x": {"field": "end", "type": "temporal"}}},
    {"data": {"values": [{}]}, "mark": {"type": "text", "text": "Change of bulge", "fontSize": 18, "align": "center", "baseline": "middle"},
     "encoding": {"x": {"datum": {"year":2022,"month":3,"date":27,"utc":true}, "type": "temporal"}, "y": {"datum": 106, "type": "quantitative"}}},
    {"data": {"name": "k1"}, "mark": {"type": "line", "strokeWidth": 1.8},
     "encoding": {"x": {"field": "date", "type": "temporal"},
       "y": {"field": "kPa", "type": "quantitative", "scale": {"domain": [0, 206], "nice": false},
         "axis": {"title": ["K1 earth pressur", "(kPa)"], "values": [50, 100, 150, 200], "tickSize": -5, "labelPadding": 10, "domain": false, "titlePadding": 2, "titleLineHeight": 23}},
       "color": {"field": "depth", "type": "nominal",
         "scale": {"domain": ["24m","22m","18m","14m","9m","8m","6m","4m","2m"], "range": ["#555555","#EE3A3A","#1F6FE5","#2EA866","#B96FE8","#D9A115","#18CAD6","#7A4343","#9B9B16"]},
         "legend": {"orient": "none", "legendX": 28, "legendY": -30, "direction": "horizontal", "columns": 9, "title": null, "strokeColor": "#7f7f7f", "fillColor": "white", "padding": 2, "labelFontSize": 17, "symbolSize": 70, "symbolOpacity": 1, "symbolOffset": 14, "labelOffset": 14, "columnPadding": -5, "symbolStrokeWidth": 1.5}}}},
    {"data": {"name": "k1"}, "mark": {"type": "point", "filled": true, "size": 70, "opacity": 1},
     "encoding": {"x": {"field": "date", "type": "temporal"}, "y": {"field": "kPa", "type": "quantitative"},
       "color": {"field": "depth", "type": "nominal",
         "legend": {"orient": "none", "legendX": 28, "legendY": -30, "direction": "horizontal", "columns": 9, "title": null, "strokeColor": "#7f7f7f", "fillColor": "white", "padding": 2, "labelFontSize": 17, "symbolSize": 70, "symbolOpacity": 1, "symbolOffset": 14, "labelOffset": 14, "columnPadding": -5, "symbolStrokeWidth": 1.5}},
       "shape": {"field": "depth", "type": "nominal",
         "scale": {"domain": ["24m","22m","18m","14m","9m","8m","6m","4m","2m"], "range": [
           "M-4.54,0H4.54M-1,-1H1V1H-1Z",
           "M-4.54,0H4.54M-1.05,0A1.05,1.05,0,1,1,1.05,0A1.05,1.05,0,1,1,-1.05,0Z",
           "M-4.54,0H4.54M0,-1.15L1.2,0.9L-1.2,0.9Z",
           "M-4.54,0H4.54M0,1.15L1.2,-0.9L-1.2,-0.9Z",
           "M-4.54,0H4.54M0,-1.3L1.1,0L0,1.3L-1.1,0Z",
           "M-4.54,0H4.54M-1.15,0L0.9,-1.2L0.9,1.2Z",
           "M-4.54,0H4.54M1.15,0L-0.9,-1.2L-0.9,1.2Z",
           "M-4.54,0H4.54M-1.05,0A1.05,1.05,0,1,1,1.05,0A1.05,1.05,0,1,1,-1.05,0Z",
           "M-4.54,0H4.54M0,-1.3L0.306,-0.421L1.236,-0.402L0.494,0.161L0.764,1.052L0,0.52L-0.764,1.052L-0.494,0.161L-1.236,-0.402L-0.306,-0.421Z"]},
         "legend": {"orient": "none", "legendX": 28, "legendY": -30, "direction": "horizontal", "columns": 9, "title": null, "strokeColor": "#7f7f7f", "fillColor": "white", "padding": 2, "labelFontSize": 17, "symbolSize": 70, "symbolOpacity": 1, "symbolOffset": 14, "labelOffset": 14, "columnPadding": -5, "symbolStrokeWidth": 1.5}}}}
  ]
},
{
  "width": 691, "height": 163,
  "layer": [
    {"data": {"name": "k2bands"}, "mark": {"type": "rect", "fill": "#CDFAFD"},
     "encoding": {"x": {"field": "start", "type": "temporal", "scale": {"type": "utc", "nice": false, "domain": [{"year":2022,"month":2,"date":1,"utc":true},{"year":2023,"month":3,"date":1,"utc":true}]},
       "axis": {"title": null, "labels": false, "domain": false, "tickSize": -5, "values": [{"year":2022,"month":2,"date":1,"utc":true},{"year":2022,"month":3,"date":1,"utc":true},{"year":2022,"month":4,"date":1,"utc":true},{"year":2022,"month":5,"date":1,"utc":true},{"year":2022,"month":6,"date":1,"utc":true},{"year":2022,"month":7,"date":1,"utc":true},{"year":2022,"month":8,"date":1,"utc":true},{"year":2022,"month":9,"date":1,"utc":true},{"year":2022,"month":10,"date":1,"utc":true},{"year":2022,"month":11,"date":1,"utc":true},{"year":2022,"month":12,"date":1,"utc":true},{"year":2023,"month":1,"date":1,"utc":true},{"year":2023,"month":2,"date":1,"utc":true}]}},
       "x2": {"field": "end"}}},
    {"data": {"name": "k2bands"}, "mark": {"type": "rule", "color": "#555555", "strokeWidth": 0.8, "strokeDash": [4, 3]}, "encoding": {"x": {"field": "start", "type": "temporal"}}},
    {"data": {"name": "k2bands"}, "mark": {"type": "rule", "color": "#555555", "strokeWidth": 0.8, "strokeDash": [4, 3]}, "encoding": {"x": {"field": "end", "type": "temporal"}}},
    {"data": {"name": "lags"}, "mark": {"type": "rule", "color": "#333333", "strokeWidth": 0.9}, "encoding": {"x": {"field": "start", "type": "temporal"}}},
    {"data": {"name": "lags"}, "mark": {"type": "rule", "color": "black", "strokeWidth": 1}, "encoding": {"x": {"field": "start", "type": "temporal"}, "x2": {"field": "end"}, "y": {"datum": 174, "type": "quantitative"}}},
    {"data": {"name": "lags"}, "mark": {"type": "point", "shape": "triangle-left", "filled": true, "color": "black", "size": 45, "opacity": 1, "xOffset": 3}, "encoding": {"x": {"field": "start", "type": "temporal"}, "y": {"datum": 174, "type": "quantitative"}}},
    {"data": {"name": "lags"}, "mark": {"type": "point", "shape": "triangle-right", "filled": true, "color": "black", "size": 45, "opacity": 1, "xOffset": -3}, "encoding": {"x": {"field": "end", "type": "temporal"}, "y": {"datum": 174, "type": "quantitative"}}},
    {"data": {"name": "lags"}, "mark": {"type": "text", "text": ["Lag", "time"], "lineHeight": 22, "fontSize": 18, "align": "center", "baseline": "middle"}, "encoding": {"x": {"field": "mid", "type": "temporal"}, "y": {"datum": 187.5, "type": "quantitative"}}},
    {"data": {"values": [{}]}, "mark": {"type": "text", "text": "Change of bulge", "fontSize": 18, "align": "center", "baseline": "middle"},
     "encoding": {"x": {"datum": {"year":2022,"month":3,"date":18,"utc":true}, "type": "temporal"}, "y": {"datum": 89.6, "type": "quantitative"}}},
    {"data": {"name": "k2"}, "mark": {"type": "line", "strokeWidth": 1.8},
     "encoding": {"x": {"field": "date", "type": "temporal"},
       "y": {"field": "kPa", "type": "quantitative", "scale": {"domain": [0, 200], "nice": false},
         "axis": {"title": ["K2 earth pressur", "(kPa)"], "values": [0, 50, 100, 150, 200], "tickSize": -5, "labelPadding": 10, "labelOffset": -2, "domain": false, "titlePadding": 2, "titleLineHeight": 23}},
       "color": {"field": "depth", "type": "nominal", "legend": null}}},
    {"data": {"name": "k2"}, "mark": {"type": "point", "filled": true, "size": 70, "opacity": 1},
     "encoding": {"x": {"field": "date", "type": "temporal"}, "y": {"field": "kPa", "type": "quantitative"},
       "color": {"field": "depth", "type": "nominal", "legend": null},
       "shape": {"field": "depth", "type": "nominal", "legend": null}}}
  ]
},
{
  "width": 691, "height": 166,
  "layer": [
    {"data": {"name": "drawdown"}, "mark": {"type": "rect", "fill": "#FFFABB"},
     "encoding": {"x": {"field": "start", "type": "temporal", "scale": {"type": "utc", "nice": false, "domain": [{"year":2022,"month":2,"date":1,"utc":true},{"year":2023,"month":3,"date":1,"utc":true}]},
       "axis": {"title": "Date (Month/Year)", "domain": false, "tickSize": -5, "labelPadding": 21, "labelFlush": false, "labelOverlap": false, "labelFontSize": 16, "titlePadding": 1,
         "labelExpr": "utcmonth(datum.value) % 2 == 1 ? utcFormat(datum.value, '%m/%Y') : ''",
         "values": [{"year":2022,"month":2,"date":1,"utc":true},{"year":2022,"month":3,"date":1,"utc":true},{"year":2022,"month":4,"date":1,"utc":true},{"year":2022,"month":5,"date":1,"utc":true},{"year":2022,"month":6,"date":1,"utc":true},{"year":2022,"month":7,"date":1,"utc":true},{"year":2022,"month":8,"date":1,"utc":true},{"year":2022,"month":9,"date":1,"utc":true},{"year":2022,"month":10,"date":1,"utc":true},{"year":2022,"month":11,"date":1,"utc":true},{"year":2022,"month":12,"date":1,"utc":true},{"year":2023,"month":1,"date":1,"utc":true},{"year":2023,"month":2,"date":1,"utc":true}]}},
       "x2": {"field": "end"}}},
    {"data": {"name": "drawdown"}, "mark": {"type": "rule", "color": "#555555", "strokeWidth": 0.8, "strokeDash": [4, 3]}, "encoding": {"x": {"field": "start", "type": "temporal"}}},
    {"data": {"name": "drawdown"}, "mark": {"type": "rule", "color": "#555555", "strokeWidth": 0.8, "strokeDash": [4, 3]}, "encoding": {"x": {"field": "end", "type": "temporal"}}},
    {"data": {"values": [{}]}, "mark": {"type": "text", "text": "Drawdown", "fontSize": 18, "align": "center", "baseline": "middle"},
     "encoding": {"x": {"datum": {"year":2022,"month":3,"date":22,"utc":true}, "type": "temporal"}, "y": {"datum": 169.8, "type": "quantitative"}}},
    {"data": {"values": [{}]}, "mark": {"type": "text", "text": "Drawdown", "fontSize": 18, "align": "center", "baseline": "middle"},
     "encoding": {"x": {"datum": {"year":2022,"month":5,"date":26,"utc":true}, "type": "temporal"}, "y": {"datum": 171.5, "type": "quantitative"}}},
    {"data": {"values": [{}]}, "mark": {"type": "text", "text": "Drawdown", "fontSize": 18, "align": "center", "baseline": "middle"},
     "encoding": {"x": {"datum": {"year":2022,"month":8,"date":5,"utc":true}, "type": "temporal"}, "y": {"datum": 170.5, "type": "quantitative"}}},
    {"data": {"values": [{}]}, "mark": {"type": "text", "text": "Drawdown", "fontSize": 18, "align": "center", "baseline": "middle"},
     "encoding": {"x": {"datum": {"year":2022,"month":11,"date":5,"utc":true}, "type": "temporal"}, "y": {"datum": 168.3, "type": "quantitative"}}},
    {"data": {"name": "water"}, "mark": {"type": "line", "strokeWidth": 1.8},
     "encoding": {"x": {"field": "date", "type": "temporal"},
       "y": {"field": "level", "type": "quantitative", "scale": {"domain": [160, 175], "nice": false, "zero": false},
         "axis": {"title": ["Reservoir water level", "(m)"], "values": [162, 165, 168, 171, 174], "tickSize": -5, "labelPadding": 10, "domain": false, "titlePadding": 2, "titleLineHeight": 23}},
       "stroke": {"datum": "Reservoir water level", "type": "nominal", "scale": {"range": ["black"]},
         "legend": {"orient": "none", "legendX": 498, "legendY": 0, "title": null, "symbolType": "stroke", "symbolSize": 1369, "symbolStrokeWidth": 1.6, "symbolStrokeColor": "black", "labelFontSize": 17, "labelOffset": 6, "padding": 0}}}}
  ]
}
],
"resolve": {"legend": {"color": "independent", "shape": "independent", "stroke": "independent"}}
}
